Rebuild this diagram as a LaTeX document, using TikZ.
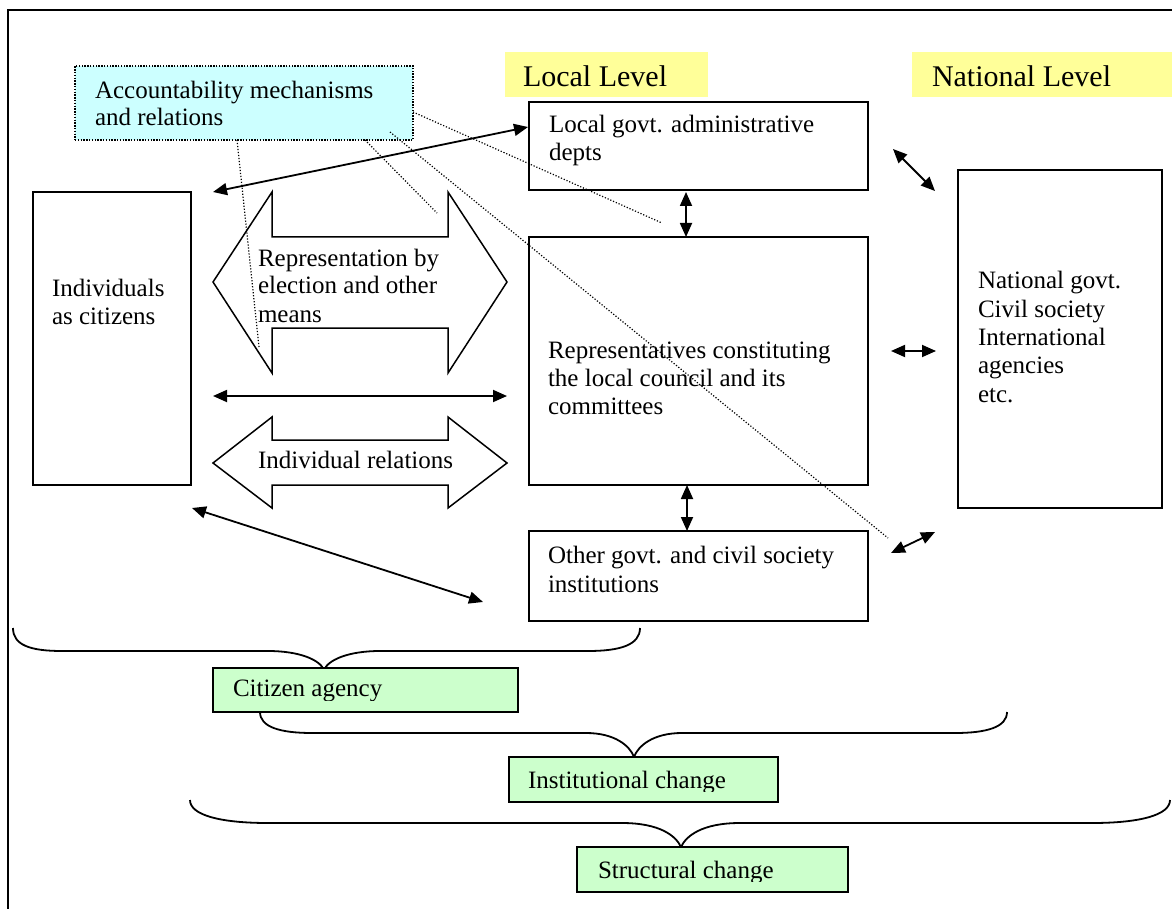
\documentclass[tikz,border=0pt]{standalone}
\usepackage{fontspec}
\setmainfont{Liberation Serif}
\usetikzlibrary{arrows.meta}
\definecolor{cyanfill}{HTML}{CCFFFF}
\definecolor{yellowfill}{HTML}{FFFF99}
\definecolor{greenfill}{HTML}{CCFFCC}
\begin{document}
\begin{tikzpicture}[x=1pt,y=-1pt,
  box/.style={draw=black, line width=1.8pt, anchor=north west, inner sep=0pt, outer sep=0pt},
  accbox/.style={box, fill=cyanfill, line width=1.4pt, dash pattern=on 1.4pt off 1.4pt},
  greenbox/.style={box, fill=greenfill},
  txt/.style={anchor=base west, inner sep=0pt, outer sep=0pt, font=\fontsize{25}{28}\selectfont},
  bigtxt/.style={anchor=base west, inner sep=0pt, outer sep=0pt, font=\fontsize{30}{34}\selectfont},
  arr/.style={line width=1.8pt, {Triangle[length=14pt,width=12pt]}-{Triangle[length=14pt,width=12pt]}},
  dotline/.style={line width=1.2pt, dash pattern=on 1.2pt off 1.8pt},
  blockarrow/.style={draw=black, line width=1.5pt, fill=white, line join=miter},
  bracepath/.style={draw=black, line width=1.8pt}
]
\useasboundingbox (0,0) rectangle (1172,909);
\fill[white] (0,0) rectangle (1172,909);

% frame
\draw[line width=2pt] (8,909) -- (8,10) -- (1172,10);

% yellow labels
\fill[yellowfill] (505,52) rectangle (708,97);
\fill[yellowfill] (912,52) rectangle (1172,97);
\node[bigtxt] (loclev) at (523,87) {Local Level};
\node[bigtxt] (natlev) at (932,87) {National Level};

% boxes
\node[box, minimum width=339pt, minimum height=88pt] (lg) at (529,102) {};
\node[box, minimum width=339pt, minimum height=248pt] (rep) at (529,237) {};
\node[box, minimum width=339pt, minimum height=90pt] (oth) at (529,531) {};
\node[box, minimum width=158pt, minimum height=293pt] (ind) at (33,192) {};
\node[box, minimum width=204pt, minimum height=338pt] (nat) at (958,170) {};
\node[accbox, minimum width=338pt, minimum height=74pt] (acc) at (75,66) {};

% box texts
\node[txt] (acc1) at (95,99) {Accountability mechanisms};
\node[txt] (acc2) at (95,126) {and relations};
\node[txt] (lg1) at (549,133) {Local govt. administrative};
\node[txt] (lg2) at (549,161) {depts};
\node[txt] (ind1) at (52,296) {Individuals};
\node[txt] (ind2) at (52,324) {as citizens};
\node[txt] (rep1) at (548,358) {Representatives constituting};
\node[txt] (rep2) at (548,386) {the local council and its};
\node[txt] (rep3) at (548,414) {committees};
\node[txt] (oth1) at (548,563) {Other govt. and civil society};
\node[txt] (oth2) at (548,592) {institutions};
\node[txt] (nat1) at (978,288) {National govt.};
\node[txt] (nat2) at (978,317) {Civil society};
\node[txt] (nat3) at (978,345) {International};
\node[txt] (nat4) at (978,373) {agencies};
\node[txt] (nat5) at (978,402) {etc.};

% block arrows
\draw[blockarrow] (213,282) -- (272,192) -- (272,237) -- (448,237) -- (448,192) -- (507,282)
  -- (448,373) -- (448,328) -- (272,328) -- (272,373) -- cycle;
\draw[blockarrow] (213,463) -- (272,417) -- (272,440) -- (448,440) -- (448,417) -- (507,463)
  -- (448,508) -- (448,485) -- (272,485) -- (272,508) -- cycle;
\node[txt] (repr1) at (258,266) {Representation by};
\node[txt] (repr2) at (258,294) {election and other};
\node[txt] (repr3) at (258,322) {means};
\node[txt] (indrel) at (258,468) {Individual relations};

% connector end points
\coordinate (a1s) at (213,192); \coordinate (a1e) at (528,127);
\coordinate (a2s) at (213,396); \coordinate (a2e) at (507,396);
\coordinate (a3s) at (192,508); \coordinate (a3e) at (483,602);
\coordinate (v1s) at (686,192); \coordinate (v1e) at (686,237);
\coordinate (v2s) at (687,485); \coordinate (v2e) at (687,531);
\coordinate (d1s) at (893,149); \coordinate (d1e) at (935,191);
\coordinate (h1s) at (891,351); \coordinate (h1e) at (936,351);
\coordinate (d2s) at (891,553); \coordinate (d2e) at (935,532);

\draw[arr] (a1s) -- (a1e);
\draw[arr] (a2s) -- (a2e);
\draw[arr] (a3s) -- (a3e);
\draw[arr] (v1s) -- (v1e);
\draw[arr] (v2s) -- (v2e);
\draw[arr] (d1s) -- (d1e);
\draw[arr] (h1s) -- (h1e);
\draw[arr] (d2s) -- (d2e);

% dotted accountability lines
\coordinate (p1s) at (237,140); \coordinate (p1e) at (259,347);
\coordinate (p2s) at (365,140); \coordinate (p2e) at (437,213);
\coordinate (p3s) at (413,112); \coordinate (p3e) at (662,223);
\coordinate (p4s) at (390,132); \coordinate (p4e) at (888,538);
\draw[dotline] (p1s) -- (p1e);
\draw[dotline] (p2s) -- (p2e);
\draw[dotline] (p3s) -- (p3e);
\draw[dotline] (p4s) -- (p4e);

% braces
\draw[bracepath] (13,628) .. controls (13,645) and (30,651) .. (62,651) -- (268,651)
  .. controls (300,651) and (320,660) .. (324,670)
  .. controls (328,660) and (348,651) .. (380,651) -- (588,651)
  .. controls (620,651) and (640,645) .. (640,628);
\draw[bracepath] (260,712) .. controls (260,727) and (280,733) .. (312,733) -- (586,733)
  .. controls (615,733) and (630,746) .. (634,757)
  .. controls (638,746) and (653,733) .. (682,733) -- (955,733)
  .. controls (987,733) and (1007,727) .. (1007,712);
\draw[bracepath] (190,800) .. controls (190,815) and (220,823) .. (268,823) -- (622,823)
  .. controls (660,823) and (676,836) .. (681,847)
  .. controls (686,836) and (702,823) .. (740,823) -- (1092,823)
  .. controls (1140,823) and (1170,815) .. (1170,800);

% green boxes
\node[greenbox, minimum width=305pt, minimum height=44pt] (ca) at (213,668) {};
\node[greenbox, minimum width=269pt, minimum height=45pt] (ic) at (509,757) {};
\node[greenbox, minimum width=271pt, minimum height=45pt] (sc) at (577,847) {};
\begin{scope}
  \clip (213,668) rectangle (518,700);
  \node[txt] (catxt) at (233,696) {Citizen agency};
\end{scope}
\begin{scope}
  \clip (509,757) rectangle (778,791);
  \node[txt] (ictxt) at (528,788) {Institutional change};
\end{scope}
\begin{scope}
  \clip (577,847) rectangle (848,881);
  \node[txt] (sctxt) at (598,878) {Structural change};
\end{scope}
\end{tikzpicture}
\end{document}
